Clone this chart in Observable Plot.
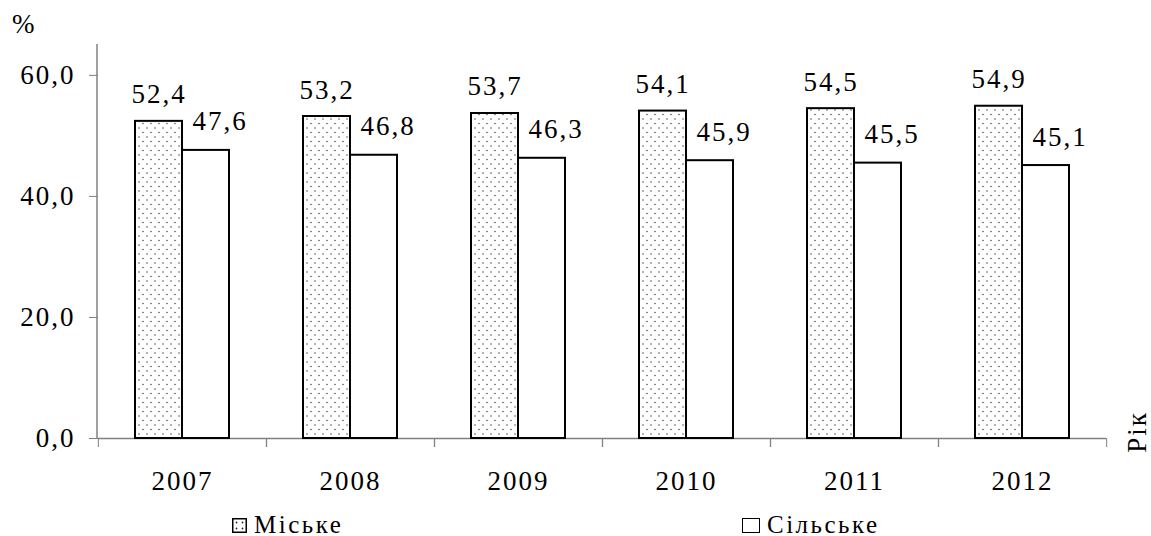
<!DOCTYPE html>
<html>
<head>
<meta charset="utf-8">
<script src="https://cdn.jsdelivr.net/npm/d3@7"></script>
<script src="https://cdn.jsdelivr.net/npm/@observablehq/plot@0.6"></script>
<style>
  body { margin: 0; background: #fff; font-family: "Liberation Serif", "DejaVu Serif", serif; }
  #legend { position: relative; width: 1151px; height: 36px; font-size: 25px; letter-spacing: 2.5px; color: #000; }
  .item { position: absolute; top: 11px; display: flex; align-items: center; white-space: nowrap; }
  .sw { width: 15px; height: 15px; box-sizing: border-box; border: 1.5px solid #000; margin-right: 7px; background: #fff; }
</style>
</head>
<body>
<div id="chart"></div>
<div id="legend"></div>
<script>
const years = ["2007", "2008", "2009", "2010", "2011", "2012"];
const series = ["Міське", "Сільське"];
const urban = [52.4, 53.2, 53.7, 54.1, 54.5, 54.9];
const rural = [47.6, 46.8, 46.3, 45.9, 45.5, 45.1];
const yTicks = [0, 20, 40, 60];
const yMax = 65.1;
const yLabel = "%";
const xLabel = "Рік";

const data = years.flatMap((year, i) => [
  {year, series: series[0], value: urban[i]},
  {year, series: series[1], value: rural[i]}
]);

const W = 1151, H = 500, mL = 97, mR = 44, mT = 44, mB = 62;
const step = (W - mL - mR) / years.length;
const barW = 48;
const po = (step / barW - 2) / 2;
const fmt = d => d3.format(".1f")(d).replace(".", ",");
const font = "Liberation Serif, DejaVu Serif, serif";

const chart = Plot.plot({
  width: W, height: H,
  marginLeft: mL, marginRight: mR, marginTop: mT, marginBottom: mB,
  style: {fontFamily: font, fontSize: "27px", letterSpacing: "2px", color: "#000", background: "#fff"},
  fx: {domain: years, padding: 0, label: null},
  x: {domain: series, paddingInner: 0, paddingOuter: po, axis: null},
  y: {domain: [0, yMax], label: null},
  marks: [
    Plot.axisY(yTicks, {tickSize: 9, tickPadding: 14, tickFormat: fmt, stroke: "#808080", label: null}),
    Plot.axisFx({anchor: "bottom", tickSize: 0, tickPadding: 32, label: null}),
    Plot.axisFx({anchor: "bottom", tickSize: 9, fill: "none", stroke: "#808080", dx: -step / 2, label: null}),
    Plot.axisFx([years[years.length - 1]], {anchor: "bottom", tickSize: 9, fill: "none", stroke: "#808080", dx: step / 2, label: null}),
    Plot.ruleY([0], {stroke: "#808080", strokeWidth: 1.5}),
    Plot.barY(data.filter(d => d.series === series[0]), {fx: "year", x: "series", y: "value", fill: "url(#dots)", stroke: "#000", strokeWidth: 2}),
    Plot.barY(data.filter(d => d.series === series[1]), {fx: "year", x: "series", y: "value", fill: "#fff", stroke: "#000", strokeWidth: 2}),
    Plot.text(data.filter(d => d.series === series[0]), {fx: "year", x: "series", y: "value", text: d => fmt(d.value), lineAnchor: "bottom", dy: -18, fill: "#000"}),
    Plot.text(data.filter(d => d.series === series[1]), {fx: "year", x: "series", y: "value", text: d => fmt(d.value), lineAnchor: "bottom", dy: -20, dx: 14, fill: "#000"})
  ]
});

const svg = d3.select(chart);
const defs = svg.insert("defs", ":first-child");
const pat = defs.append("pattern").attr("id", "dots").attr("patternUnits", "userSpaceOnUse")
  .attr("width", 8).attr("height", 9);
pat.append("rect").attr("width", 8).attr("height", 9).attr("fill", "#fff");
pat.append("circle").attr("cx", 2).attr("cy", 2).attr("r", 0.75).attr("fill", "#444");
pat.append("circle").attr("cx", 6).attr("cy", 6.5).attr("r", 0.75).attr("fill", "#444");

const ys = chart.scale("y");
svg.append("line").attr("x1", mL).attr("x2", mL)
  .attr("y1", ys.apply(yMax)).attr("y2", ys.apply(0))
  .attr("stroke", "#808080").attr("stroke-width", 1.5);

svg.append("text").attr("x", 12).attr("y", 33).attr("text-anchor", "start")
  .attr("font-family", font).attr("font-size", 27).text(yLabel);
svg.append("text").attr("transform", `translate(1146, 432) rotate(-90)`)
  .attr("text-anchor", "middle").attr("font-family", font).attr("font-size", 27).text(xLabel);

document.getElementById("chart").appendChild(chart);

const legend = d3.select("#legend");
const lefts = [232, 742];
series.forEach((s, i) => {
  const it = legend.append("div").attr("class", "item").style("left", lefts[i] + "px");
  if (i === 0) {
    const sw = it.append("svg").attr("width", 15).attr("height", 15).style("margin-right", "7px");
    sw.append("rect").attr("x", 0.75).attr("y", 0.75).attr("width", 13.5).attr("height", 13.5)
      .attr("fill", "#fff").attr("stroke", "#000").attr("stroke-width", 1.5);
    [[4.5, 4.5], [10.5, 4.5], [4.5, 10.5], [10.5, 10.5]].forEach(([cx, cy]) =>
      sw.append("circle").attr("cx", cx).attr("cy", cy).attr("r", 0.9).attr("fill", "#222"));
  } else {
    it.append("div").attr("class", "sw").style("width", "18px");
  }
  it.append("span").text(s);
});
</script>
</body>
</html>
